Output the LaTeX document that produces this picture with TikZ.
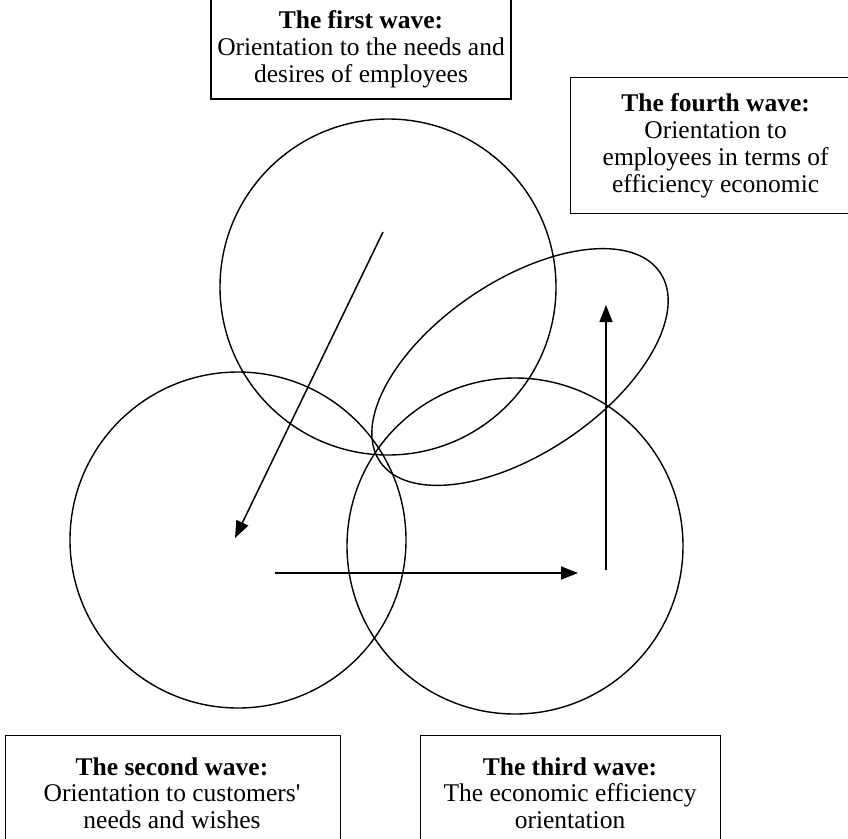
\documentclass[tikz,border=0pt]{standalone}
\usepackage{fontspec}
\setmainfont{Liberation Serif}
\usetikzlibrary{arrows.meta,shapes.geometric}
\begin{document}
\begin{tikzpicture}[x=1pt,y=-1pt,
  wavebox/.style={draw, line width=1.3pt, align=center, inner sep=0pt,
    font=\fontsize{25.5}{27}\selectfont},
  wavetext/.style={align=center, inner sep=0pt, font=\fontsize{25.5}{26.5}\selectfont},
  ring/.style={draw, circle, line width=1.4pt, minimum size=336pt, inner sep=0pt},
  flow/.style={line width=1.5pt, -{Triangle[length=17pt,width=13pt]}}]
\useasboundingbox (0,0) rectangle (848,838);
\fill[white] (0,0) rectangle (848,838);
% boxes
\node[wavebox, minimum width=300pt, minimum height=100pt] (w1) at (361,49)
  {\textbf{The first wave:}\\Orientation to the needs and\\desires of employees};
\node[wavebox, minimum width=290pt, minimum height=136pt, anchor=north west] (w4) at (570,77)
  {\textbf{The fourth wave:}\\Orientation to\\employees in terms of\\efficiency economic};
\node[draw, line width=1.3pt, minimum width=335pt, minimum height=130pt, anchor=north west] (w2) at (5,735) {};
\node[wavetext] (w2t) at (172,793)
  {\textbf{The second wave:}\\Orientation to customers\textquotesingle\\needs and wishes};
\node[draw, line width=1.3pt, minimum width=300pt, minimum height=130pt, anchor=north west] (w3) at (420,735) {};
\node[wavetext] (w3t) at (570,793)
  {\textbf{The third wave:}\\The economic efficiency\\orientation};
% circles
\node[ring] (c1) at (388,287) {};
\node[ring] (c2) at (238,540) {};
\node[ring] (c3) at (515,546) {};
\node[draw, ellipse, line width=1.4pt, inner sep=0pt, minimum width=338pt,
  minimum height=172pt, rotate=34] (e4) at (520,367) {};
% arrows
\coordinate (a1s) at (383,232);
\coordinate (a1e) at (235,538);
\coordinate (a2s) at (275,573);
\coordinate (a2e) at (578,573);
\coordinate (a3s) at (606,570);
\coordinate (a3e) at (606,305);
\draw[flow] (a1s) -- (a1e);
\draw[flow] (a2s) -- (a2e);
\draw[flow] (a3s) -- (a3e);
\end{tikzpicture}
\end{document}
